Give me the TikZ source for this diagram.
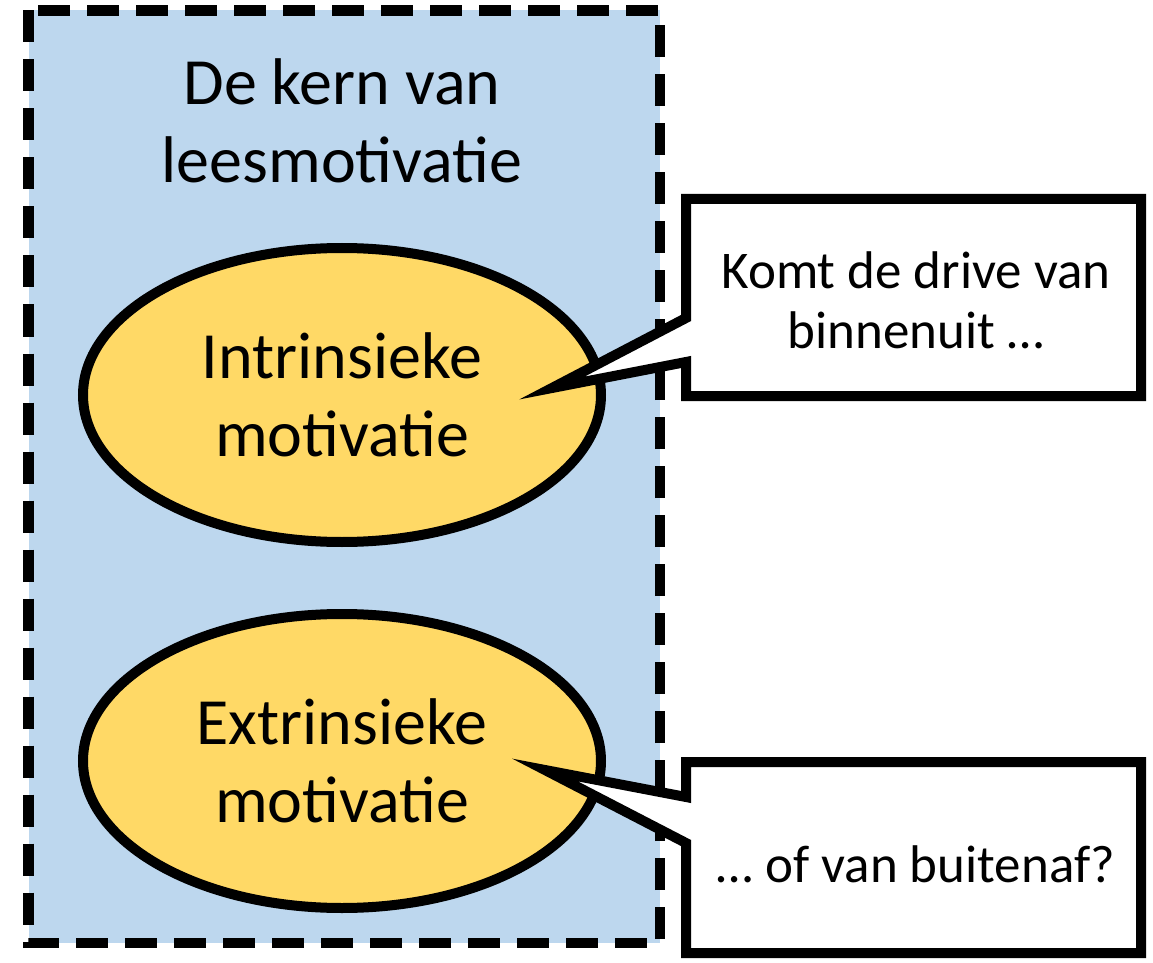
\documentclass[tikz,border=0pt]{standalone}
\usepackage{fontspec}
\setmainfont{Carlito}
\usetikzlibrary{shapes.geometric}
\definecolor{coreblue}{HTML}{BDD7EE}
\definecolor{motyellow}{HTML}{FFD966}
\begin{document}
\begin{tikzpicture}[x=0.5pt,y=-0.5pt,
  corebox/.style={line width=5.2pt, dash pattern=on 16pt off 8.5pt, fill=coreblue},
  motiv/.style={ellipse, draw, line width=5pt, fill=motyellow, minimum width=259pt, minimum height=147pt, inner sep=0pt, align=center, font=\fontsize{33}{39}\selectfont},
  callout/.style={draw, line width=5pt, fill=white, line join=miter, miter limit=12},
  calltext/.style={align=center, inner sep=0pt, font=\fontsize{26.5}{30}\selectfont},
  titletext/.style={align=center, inner sep=0pt, font=\fontsize{33}{39}\selectfont}]
\useasboundingbox[fill=white] (0,0) rectangle (1153,963);
% core box
\draw[corebox] (28.5,10.5) rectangle (660,943);
\node[titletext] (title) at (342,121) {De kern van\\leesmotivatie};
% ellipses
\node[motiv] (intr) at (342,395) {Intrinsieke\\motivatie};
\node[motiv] (extr) at (342,761) {Extrinsieke\\motivatie};
% callout 1
\coordinate (tip1) at (552,388);
\coordinate (tip2) at (545,770);
\draw[callout] (686,199) -- (1141,199) -- (1141,396) -- (686,396) -- (686,362) -- (tip1) -- (686,318) -- cycle;
\node[calltext] (c1) at (916,300) {Komt de drive van\\binnenuit \dots};
% callout 2
\draw[callout] (686,762) -- (1141,762) -- (1141,953) -- (686,953) -- (686,843) -- (tip2) -- (686,797) -- cycle;
\node[calltext] (c2) at (916,864) {\dots\ of van buitenaf?};
\end{tikzpicture}
\end{document}
